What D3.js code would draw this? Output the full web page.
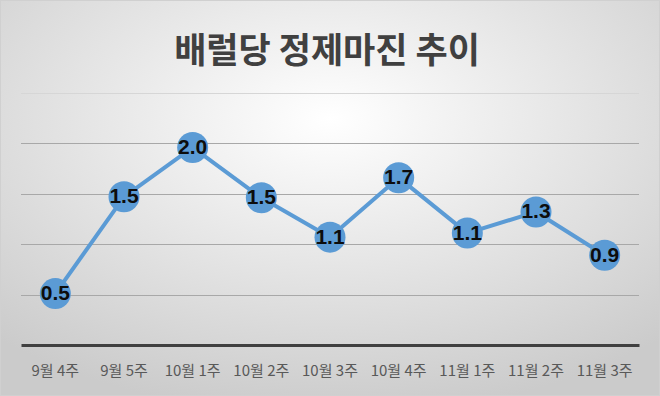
<!DOCTYPE html>
<html><head><meta charset="utf-8">
<script src="https://cdn.jsdelivr.net/npm/d3@7"></script>
<style>html,body{margin:0;padding:0;overflow:hidden;background:#fff}</style>
</head><body>
<script>
const title = "배럴당 정제마진 추이";
const categories = ["9월 4주","9월 5주","10월 1주","10월 2주","10월 3주","10월 4주","11월 1주","11월 2주","11월 3주"];
const values = [0.51, 1.47, 1.96, 1.46, 1.07, 1.66, 1.11, 1.32, 0.89];
const gridTicks = [0.5, 1.0, 1.5, 2.0, 2.5];

const W = 660, H = 396;
const svg = d3.select("body").append("svg").attr("width", W).attr("height", H);
const defs = svg.append("defs");
const rg = defs.append("radialGradient").attr("id","bg")
  .attr("cx","50%").attr("cy","30%").attr("r","75%");
rg.append("stop").attr("offset","0%").attr("stop-color","#ffffff");
rg.append("stop").attr("offset","100%").attr("stop-color","#cbcbcb");
svg.append("rect").attr("width",W).attr("height",H).attr("fill","url(#bg)");
svg.append("rect").attr("x",0.5).attr("y",0.5).attr("width",W-1).attr("height",H-1)
  .attr("fill","none").attr("stroke","#d0d0d0");

const x = d3.scaleBand().domain(categories).range([21, 639]);
const y = d3.scaleLinear().domain([0, 2.5]).range([345, 93]);

// gridlines
svg.append("g").selectAll("line").data(gridTicks).join("line")
  .attr("x1",21).attr("x2",639)
  .attr("y1",d=>Math.round(y(d))+0.5).attr("y2",d=>Math.round(y(d))+0.5)
  .attr("stroke",d=>d===2.5?"#d6d6d6":"#a8a8a8").attr("stroke-width",1);

// x axis
const xAxis = svg.append("g").attr("transform","translate(0,345)")
  .call(d3.axisBottom(x).tickSize(0).tickPadding(20));
xAxis.select(".domain").attr("stroke","#404040").attr("stroke-width",3);
xAxis.selectAll("text").attr("fill","#595959")
  .style("font-family","'Noto Sans CJK KR', sans-serif").style("font-size","15px");

// line
const line = d3.line().x((d,i)=>x(categories[i])+x.bandwidth()/2).y(d=>y(d));
svg.append("path").datum(values).attr("d",line)
  .attr("fill","none").attr("stroke","#5b9bd5").attr("stroke-width",4).attr("stroke-linejoin","round");

svg.append("g").selectAll("circle").data(values).join("circle")
  .attr("cx",(d,i)=>x(categories[i])+x.bandwidth()/2).attr("cy",d=>y(d))
  .attr("r",15.5).attr("fill","#5b9bd5");

const fmt = d3.format(".1f");
svg.append("g").selectAll("text").data(values).join("text")
  .attr("x",(d,i)=>x(categories[i])+x.bandwidth()/2).attr("y",d=>y(d)-1)
  .attr("text-anchor","middle").attr("dominant-baseline","central")
  .style("font-family","'Liberation Sans', Arial, sans-serif").style("font-weight","bold")
  .style("font-size","21px").attr("fill","#0d0d0d")
  .text(d=>fmt(d));

svg.append("text").attr("x",327).attr("y",47)
  .attr("text-anchor","middle").attr("dominant-baseline","central")
  .style("font-family","'Noto Sans CJK KR', sans-serif").style("font-weight","bold")
  .style("font-size","35px").attr("fill","#404040").text(title);
</script>
</body></html>
